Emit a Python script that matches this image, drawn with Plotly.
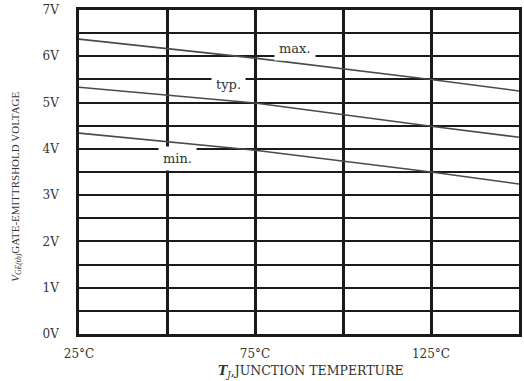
import plotly.graph_objects as go

temps = [25, 75, 125, 150]
v_max = [6.37, 5.96, 5.50, 5.25]
v_typ = [5.33, 4.99, 4.49, 4.25]
v_min = [4.34, 3.97, 3.50, 3.24]

x_tickvals = [25, 50, 75, 100, 125, 150]
x_ticktext = ["25°C", "", "75°C", "", "125°C", ""]
y_tickvals = [i * 0.5 for i in range(15)]
y_ticktext = [f"{int(v)}V" if v == int(v) else "" for v in y_tickvals]

labels = [("max.", 86.5, 6.16), ("typ.", 67.5, 5.38), ("min.", 53, 3.80)]

font_serif = "Liberation Serif, Times New Roman, serif"
font_wide = "DejaVu Serif, serif"
line_col = "#4a4a4a"

fig = go.Figure()
for vals in (v_max, v_typ, v_min):
    fig.add_trace(go.Scatter(x=temps, y=vals, mode="lines",
                             line=dict(color=line_col, width=1.6), showlegend=False))

for text, x, y in labels:
    fig.add_annotation(x=x, y=y, text=text, showarrow=False, bgcolor="white",
                       borderpad=4,
                       font=dict(family=font_wide, size=13, color="#333"))

# x-axis title
fig.add_annotation(xref="paper", yref="paper", x=0.5, y=-0.116, xanchor="center",
                   yanchor="middle", showarrow=False, xshift=12,
                   text="<b><i>T</i></b><sub><i>J</i></sub>,JUNCTION TEMPERTURE",
                   font=dict(family=font_wide, size=12.5, color="#333"))
# y-axis title
fig.add_annotation(xref="paper", yref="paper", x=-0.145, y=0.455, xanchor="center",
                   yanchor="middle", showarrow=False, textangle=-90,
                   text="<i>V</i><sub><i>GE(th)</i></sub>GATE-EMITTRSHOLD VOLTAGE",
                   font=dict(family=font_serif, size=11, color="#333"))

fig.update_layout(
    width=524, height=381,
    margin=dict(l=79, r=2, t=10, b=47),
    paper_bgcolor="white", plot_bgcolor="white",
    font=dict(family=font_wide, color="#333"),
    xaxis=dict(range=[25, 150], tickvals=x_tickvals, ticktext=x_ticktext,
               showgrid=True, gridcolor="#1a1a1a", gridwidth=2.8,
               showline=True, linecolor="#1a1a1a", linewidth=2.5, mirror=True,
               zeroline=False, ticks="", ticklabelstandoff=7,
               tickfont=dict(family=font_wide, size=12, color="#333")),
    yaxis=dict(range=[0, 7], tickvals=y_tickvals, ticktext=y_ticktext,
               showgrid=True, gridcolor="#1a1a1a", gridwidth=1.8,
               showline=True, linecolor="#1a1a1a", linewidth=2.5, mirror=True,
               zeroline=False, ticks="", ticklabelstandoff=15,
               tickfont=dict(family=font_wide, size=12, color="#333")),
)

fig.write_html("out.html")
